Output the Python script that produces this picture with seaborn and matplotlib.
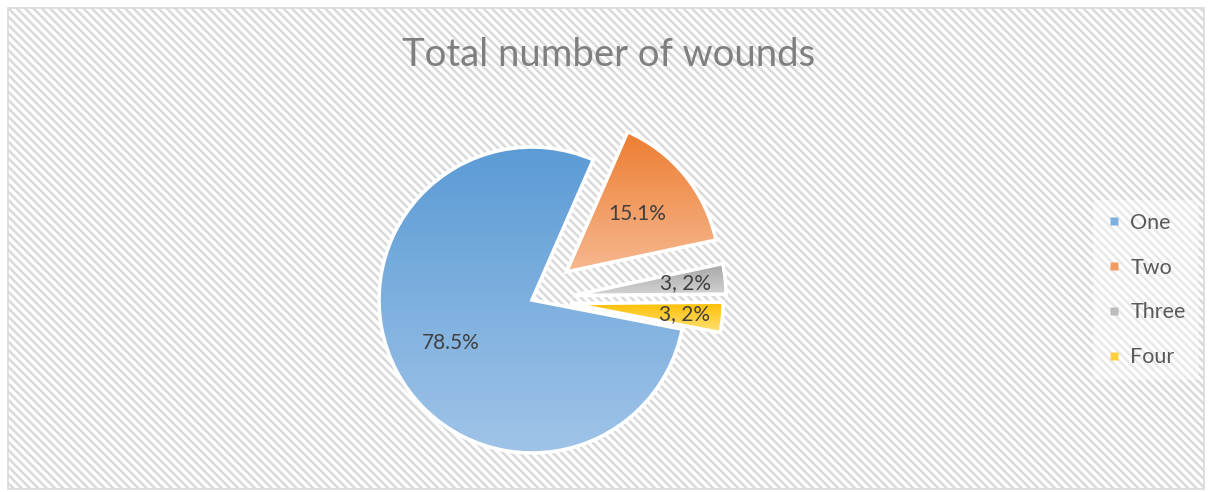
import numpy as np
import matplotlib
matplotlib.use("Agg")
import matplotlib.pyplot as plt
from matplotlib.patches import Rectangle
from matplotlib.lines import Line2D
import seaborn as sns

# Wound counts per patient (share of cases, %)
categories = ["One", "Two", "Three", "Four"]
shares = [78.5, 15.1, 3.2, 3.2]
label_texts = ["78.5%", "15.1%", "3, 2%", "3, 2%"]

# Vertical gradient for each slice: darker at the top, lighter at the bottom
top_colors = ["#5b9bd5", "#ed7d31", "#a5a5a5", "#ffc000"]
bottom_colors = ["#a0c4e8", "#f6b890", "#d3d3d3", "#ffe07a"]
explode_frac = [0.0, 0.29, 0.27, 0.25]
label_dist = [0.6, 0.6, 0.74, 0.75]

sns.set_theme(style="white")
plt.rcParams["font.family"] = ["Lato", "DejaVu Sans"]
plt.rcParams["hatch.linewidth"] = 1.8
plt.rcParams["hatch.color"] = "#e6e6e6"

W, H = 1211, 492
fig = plt.figure(figsize=(W / 100, H / 100), dpi=100)
fig.patch.set_facecolor("white")
ax = fig.add_axes([0, 0, 1, 1])

# chart area with the diagonal hatched background and a thin grey frame
bg = Rectangle((8, 3), W - 15, H - 11, facecolor="white", edgecolor="#d9d9d9",
               hatch="\\\\\\\\", linewidth=1.2, zorder=0)
ax.add_patch(bg)

cx, cy, R = 532, H - 300, 153
wedges, _ = ax.pie(shares, explode=[e * R for e in explode_frac],
                   startangle=-11, counterclock=False,
                   radius=R, center=(cx, cy),
                   wedgeprops=dict(edgecolor="white", linewidth=2.6))

for w, top, bot, txt, d in zip(wedges, top_colors, bottom_colors, label_texts, label_dist):
    verts = w.get_path().vertices
    xmin, ymin = verts.min(axis=0)
    xmax, ymax = verts.max(axis=0)
    grad = np.array(sns.blend_palette([top, bot], 256))[:, None, :]
    w.set_facecolor("none")
    w.set_zorder(3)
    im = ax.imshow(grad, extent=[xmin, xmax, ymin, ymax], origin="upper",
                   aspect="auto", zorder=2, interpolation="bilinear")
    im.set_clip_path(w)
    # data label placed along the slice bisector
    ang = np.deg2rad((w.theta1 + w.theta2) / 2)
    wx, wy = w.center
    ax.text(wx + d * w.r * np.cos(ang), wy + d * w.r * np.sin(ang), txt,
            ha="center", va="center", fontsize=15, color="#404040", zorder=4)

ax.set_xlim(0, W)
ax.set_ylim(0, H)
ax.set_aspect("equal")
ax.axis("off")

ax.text(609, H - 55, "Total number of wounds", ha="center", va="center",
        fontsize=27.5, color="#7f7f7f", zorder=4)

handles = [Line2D([0], [0], marker="s", linestyle="none", markersize=6,
                  markerfacecolor=sns.blend_palette([t, b], 3)[1],
                  markeredgecolor="none")
           for t, b in zip(top_colors, bottom_colors)]
leg = ax.legend(handles, categories, loc="center left",
                bbox_to_anchor=(1082 / W, 1 - 290 / H), frameon=True,
                fontsize=15.5, labelspacing=1.15, handletextpad=0.35,
                handlelength=0.8, borderpad=0.6)
leg.get_frame().set_facecolor("white")
leg.get_frame().set_alpha(0.4)
leg.get_frame().set_edgecolor("none")
for t in leg.get_texts():
    t.set_color("#595959")

fig.savefig("out.png", dpi=100)
